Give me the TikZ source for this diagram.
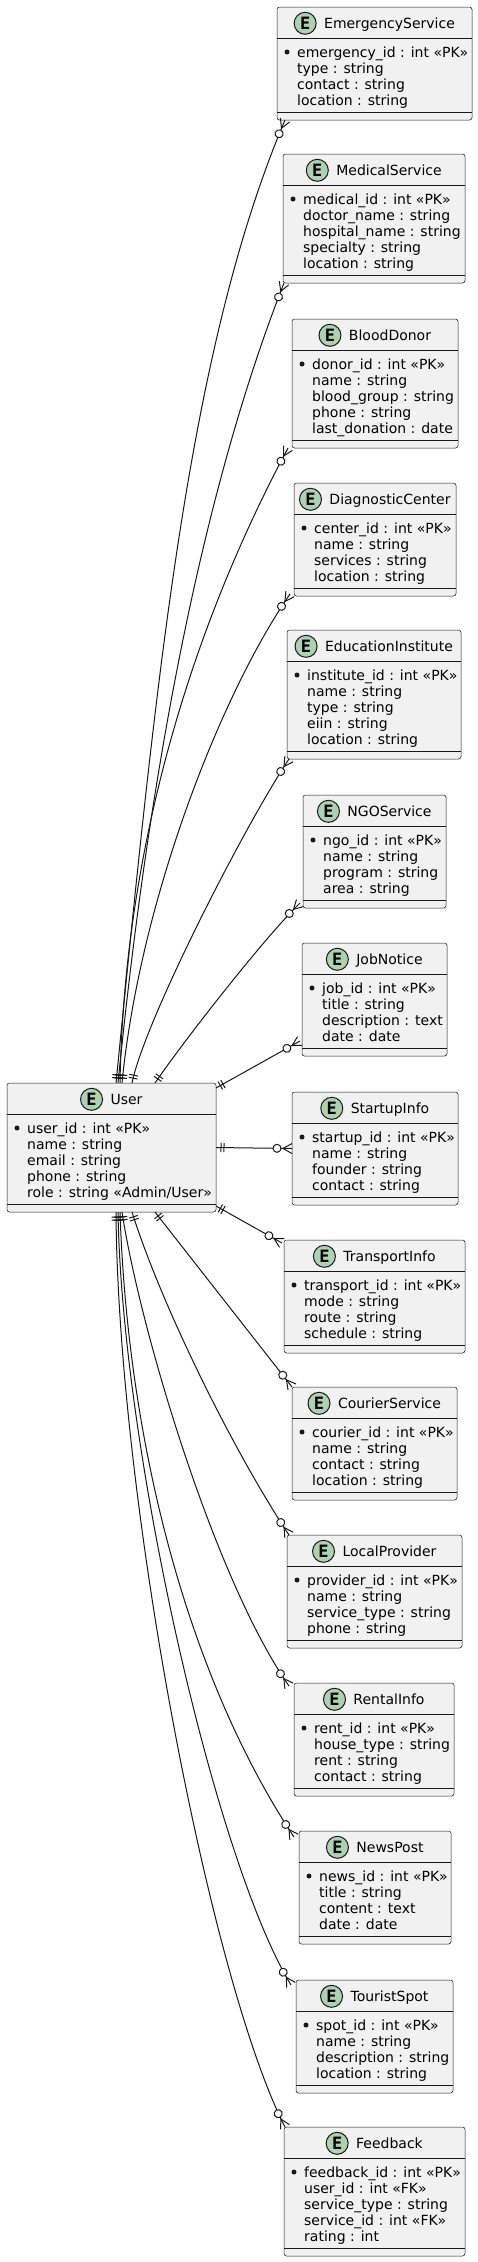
\documentclass[tikz,border=0pt]{standalone}
\usepackage{fontspec}
\setmainfont{DejaVu Sans}
\newfontfamily\badgefont{DejaVu Sans Mono}
\usepackage{tikz}
\usetikzlibrary{positioning,decorations.markings}
\definecolor{ink}{HTML}{181818}
\definecolor{entfill}{HTML}{F1F1F1}
\definecolor{badgegreen}{HTML}{ADD1B2}
\tikzset{
  ebox/.style={draw=ink, fill=entfill, line width=0.5pt, rounded corners=2.5pt, inner sep=0pt, outer sep=0pt},
  ediv/.style={draw=ink, line width=0.5pt},
  etitle/.style={inner sep=0pt, outer sep=0pt, text height=12pt, text depth=2pt, font=\fontsize{14}{16.2}\selectfont},
  badge/.style={circle, draw=ink, fill=badgegreen, line width=1pt, minimum size=22pt, inner sep=0pt, outer sep=0pt, font=\badgefont\bfseries\fontsize{17}{17}\selectfont},
  ebody/.style={anchor=north west, inner sep=0pt, align=left, font=\fontsize{14}{16.2}\selectfont},
  bullet/.style={fill=ink},
  rel/.style={draw=ink, line width=1pt, postaction={decorate, decoration={markings,
    mark=at position 0.5pt with {\draw[ink, line width=1pt] (4.5pt,-4.5pt) -- (4.5pt,4.5pt) (7.5pt,-4.5pt) -- (7.5pt,4.5pt);},
    mark=at position -0.5pt with {\draw[ink, line width=1pt] (0.5pt,5pt) -- (-8.5pt,0pt) -- (0.5pt,-5pt);
      \draw[ink, line width=1pt, fill=white] (-14.5pt,0pt) circle (4pt);}}}}
}
% one entity box: name, top left corner, width, number of fields, title, fields
\newcommand{\entity}[6]{%
  \node[ebox, minimum width=#3pt, minimum height={(49+16*#4)*1pt}, anchor=north west] (#1) at (#2) {};
  \draw[ediv] ([yshift=-31pt]#1.north west) -- ([yshift=-31pt]#1.north east);
  \draw[ediv] ([yshift=8pt]#1.south west) -- ([yshift=8pt]#1.south east);
  \node[etitle] (#1-t) at ([xshift=15pt,yshift=-16.3pt]#1.north) {#5};
  \node[badge, left=8pt of #1-t] (#1-b) {E};
  \fill[bullet] ([xshift=10pt,yshift=-45pt]#1.north west) circle (2.5pt);
  \node[ebody] (#1-a) at ([xshift=20pt,yshift=-38.5pt]#1.north west) {\strut #6};
}
\begin{document}
\begin{tikzpicture}[x=1pt, y=-1pt]
  \fill[white] (0,0) rectangle (478,2262);
  \useasboundingbox (0,0) rectangle (478,2262);

  \entity{emergency}{277,7}{195}{4}{EmergencyService}{emergency\_id : int «PK»\\type : string\\contact : string\\location : string}
  \entity{medical}{283,154}{182}{5}{MedicalService}{medical\_id : int «PK»\\doctor\_name : string\\hospital\_name : string\\specialty : string\\location : string}
  \entity{blood}{292,319}{166}{5}{BloodDonor}{donor\_id : int «PK»\\name : string\\blood\_group : string\\phone : string\\last\_donation : date}
  \entity{diagnostic}{294,483}{162}{4}{DiagnosticCenter}{center\_id : int «PK»\\name : string\\services : string\\location : string}
  \entity{education}{287,630}{174}{5}{EducationInstitute}{institute\_id : int «PK»\\name : string\\type : string\\eiin : string\\location : string}
  \entity{ngo}{303,795}{143}{4}{NGOService}{ngo\_id : int «PK»\\name : string\\program : string\\area : string}
  \entity{job}{302,943}{145}{4}{JobNotice}{job\_id : int «PK»\\title : string\\description : text\\date : date}
  \entity{user}{7,1083}{209}{5}{User}{user\_id : int «PK»\\name : string\\email : string\\phone : string\\role : string «Admin/User»}
  \entity{startup}{292,1092}{166}{4}{StartupInfo}{startup\_id : int «PK»\\name : string\\founder : string\\contact : string}
  \entity{transport}{284,1240}{181}{4}{TransportInfo}{transport\_id : int «PK»\\mode : string\\route : string\\schedule : string}
  \entity{courier}{292,1387}{165}{4}{CourierService}{courier\_id : int «PK»\\name : string\\contact : string\\location : string}
  \entity{local}{287,1535}{175}{4}{LocalProvider}{provider\_id : int «PK»\\name : string\\service\_type : string\\phone : string}
  \entity{rental}{294,1683}{160}{4}{RentalInfo}{rent\_id : int «PK»\\house\_type : string\\rent : string\\contact : string}
  \entity{news}{299,1831}{152}{4}{NewsPost}{news\_id : int «PK»\\title : string\\content : text\\date : date}
  \entity{tourist}{296,1980}{157}{4}{TouristSpot}{spot\_id : int «PK»\\name : string\\description : string\\location : string}
  \entity{feedback}{284,2127}{181}{5}{Feedback}{feedback\_id : int «PK»\\user\_id : int «FK»\\service\_type : string\\service\_id : int «FK»\\rating : int}

  % links above the user box
  \draw[rel] ([xshift=109pt]user.north west) .. controls +(40,-400) and +(-97.5,230) .. ([xshift=8pt]emergency.south west);
  \draw[rel] ([xshift=111pt]user.north west) .. controls +(35,-350) and +(-73,186) .. ([xshift=1pt]medical.south west);
  \draw[rel] ([xshift=113pt]user.north west) .. controls +(5,-283) and +(-68,127) .. ([xshift=-4pt]blood.south west);
  \draw[rel] ([xshift=115pt]user.north west) .. controls +(18,-183) and +(-69,100) .. ([xshift=-4pt,yshift=2pt]diagnostic.south west);
  \draw[rel] ([xshift=125pt]user.north west) .. controls +(13,-63) and +(-44,66) .. ([xshift=2pt]education.south west);
  \draw[rel] ([xshift=148pt]user.north west) .. controls +(28,-41) and +(-36,35) .. ([xshift=-3pt,yshift=5pt]ngo.south west);
  \draw[rel] ([yshift=-5pt]user.north east) -- ([xshift=-2pt,yshift=15pt]job.south west);
  \draw[rel] (user.east) -- (startup.west);
  \draw[rel] ([yshift=6pt]user.south east) -- ([xshift=-2pt,yshift=-3pt]transport.north west);

  % links below the user box
  \draw[rel] ([xshift=148pt]user.south west) -- (courier.north west);
  \draw[rel] ([xshift=125pt]user.south west) .. controls +(30,95) and +(-55,-83) .. ([xshift=2pt]local.north west);
  \draw[rel] ([xshift=115pt]user.south west) .. controls +(18,118) and +(-74,-106) .. ([xshift=-5pt,yshift=-3pt]rental.north west);
  \draw[rel] ([xshift=113pt]user.south west) .. controls +(8,238) and +(-104,-157) .. ([xshift=-5pt,yshift=-6pt]news.north west);
  \draw[rel] ([xshift=111pt]user.south west) .. controls +(4,238) and +(-76,-125) .. ([xshift=-5pt,yshift=-5pt]tourist.north west);
  \draw[rel] ([xshift=109pt]user.south west) .. controls +(2,288) and +(-75,-147) .. ([xshift=1pt]feedback.north west);
\end{tikzpicture}
\end{document}
